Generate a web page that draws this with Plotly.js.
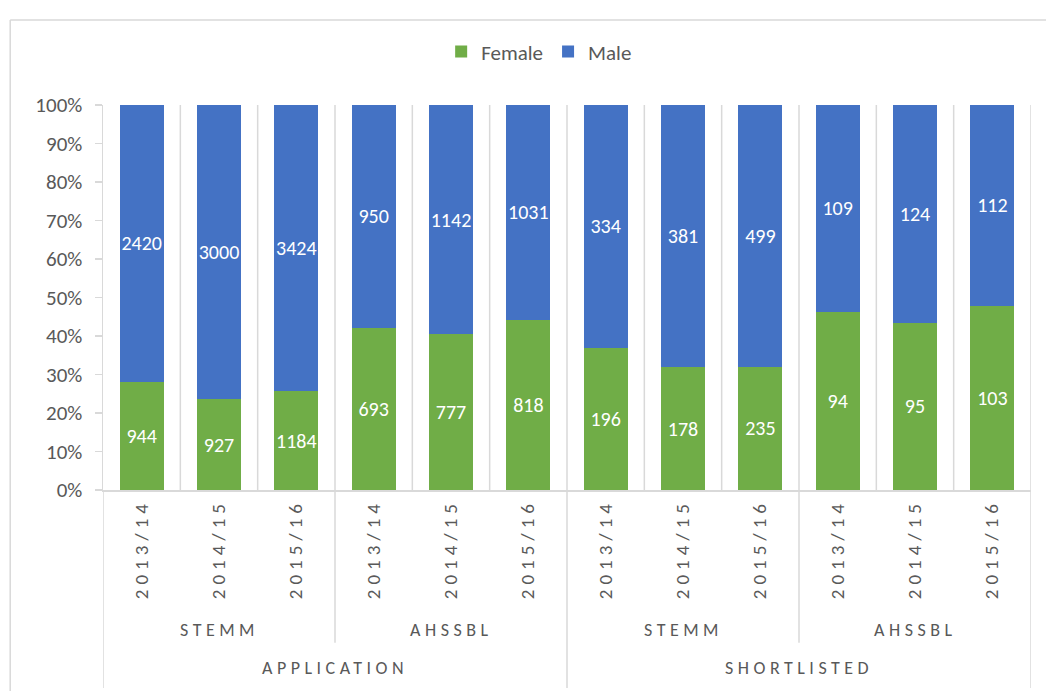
<!DOCTYPE html>
<html>
<head>
<meta charset="utf-8">
<script src="https://cdn.plot.ly/plotly-3.0.1.min.js"></script>
<style>
  html, body { margin: 0; padding: 0; background: #fff; }
  #chart { width: 1046px; height: 691px; }
  .xtick text { letter-spacing: 5px; }
  .annotation-text { letter-spacing: 4.5px; }
</style>
</head>
<body>
<div id="chart"></div>
<script>
// ---- Data ----
const years = ["2013/14", "2014/15", "2015/16", "2013/14", "2014/15", "2015/16",
               "2013/14", "2014/15", "2015/16", "2013/14", "2014/15", "2015/16"];
const fields = ["STEMM", "AHSSBL", "STEMM", "AHSSBL"];
const stages = ["APPLICATION", "SHORTLISTED"];
const female = [944, 927, 1184, 693, 777, 818, 196, 178, 235, 94, 95, 103];
const male   = [2420, 3000, 3424, 950, 1142, 1031, 334, 381, 499, 109, 124, 112];

const FONT = "Carlito, Calibri, Lato, sans-serif";
const GRAY = "#595959";
const LINE = "#d9d9d9";

const idx = years.map((_, i) => i);

const traces = [
  {
    type: "bar", name: "Female", x: idx, y: female,
    text: female.map(String), textposition: "inside", insidetextanchor: "middle",
    textangle: 0, constraintext: "none",
    textfont: { family: FONT, size: 20, color: "#ffffff" },
    marker: { color: "#70ad47" }, width: 0.57, hoverinfo: "y+name"
  },
  {
    type: "bar", name: "Male", x: idx, y: male,
    text: male.map(String), textposition: "inside", insidetextanchor: "middle",
    textangle: 0, constraintext: "none",
    textfont: { family: FONT, size: 20, color: "#ffffff" },
    marker: { color: "#4472c4" }, width: 0.57, hoverinfo: "y+name"
  }
];

// separator lines
const shapes = [];
const perField = 3;
const perStage = 6;
for (let k = 0; k <= years.length; k++) {
  const xb = k - 0.5;
  let yBottom = 0;
  if (k % perStage === 0) yBottom = -0.514;
  else if (k % perField === 0) yBottom = -0.397;
  shapes.push({
    type: "line", xref: "x", yref: "paper", x0: xb, x1: xb,
    y0: (k === 0) ? -0.514 : yBottom, y1: (k === 0) ? 0 : 1,
    line: { color: LINE, width: 1.5 }, layer: "below"
  });
}
// outer chart border (top and left)
shapes.push({ type: "line", xref: "paper", yref: "paper", x0: -0.1, x1: 1.1, y0: 1.221, y1: 1.221,
  line: { color: LINE, width: 1.5 } });
shapes.push({ type: "line", xref: "paper", yref: "paper", x0: -0.1, x1: -0.1, y0: 1.221, y1: -0.6,
  line: { color: LINE, width: 1.5 } });

const annotations = [];
fields.forEach((f, i) => {
  annotations.push({
    text: f, xref: "x", yref: "paper", x: i * perField + 1, y: -0.364,
    showarrow: false, yanchor: "middle", xanchor: "center",
    font: { family: FONT, size: 18, color: GRAY }
  });
});
stages.forEach((s, i) => {
  annotations.push({
    text: s, xref: "x", yref: "paper", x: i * perStage + 2.5, y: -0.462,
    showarrow: false, yanchor: "middle", xanchor: "center",
    font: { family: FONT, size: 18, color: GRAY }
  });
});

const layout = {
  width: 1046, height: 691,
  margin: { l: 103, r: 15, t: 105, b: 201 },
  paper_bgcolor: "#ffffff", plot_bgcolor: "#ffffff",
  barmode: "stack", barnorm: "percent",
  font: { family: FONT, color: GRAY, size: 18 },
  showlegend: true,
  legend: {
    orientation: "h", x: 0.47, xanchor: "center", y: 1.138, yanchor: "middle",
    font: { family: FONT, size: 21, color: GRAY }, traceorder: "normal"
  },
  xaxis: {
    range: [-0.5, years.length - 0.5],
    tickmode: "array", tickvals: idx, ticktext: years,
    tickangle: -90, ticks: "", showgrid: false, zeroline: false,
    showline: true, linecolor: LINE, linewidth: 1.5,
    tickfont: { family: FONT, size: 19, color: GRAY },
    fixedrange: true
  },
  yaxis: {
    range: [0, 100], dtick: 10, ticksuffix: "%",
    showgrid: false, zeroline: false,
    showline: true, linecolor: LINE, linewidth: 1.5,
    ticks: "outside", ticklen: 7, tickcolor: LINE, tickwidth: 1.5,
    tickfont: { family: FONT, size: 21, color: GRAY },
    ticklabelstandoff: 8,
    fixedrange: true
  },
  shapes: shapes,
  annotations: annotations
};

Plotly.newPlot("chart", traces, layout, { displayModeBar: false, staticPlot: true });
</script>
</body>
</html>
